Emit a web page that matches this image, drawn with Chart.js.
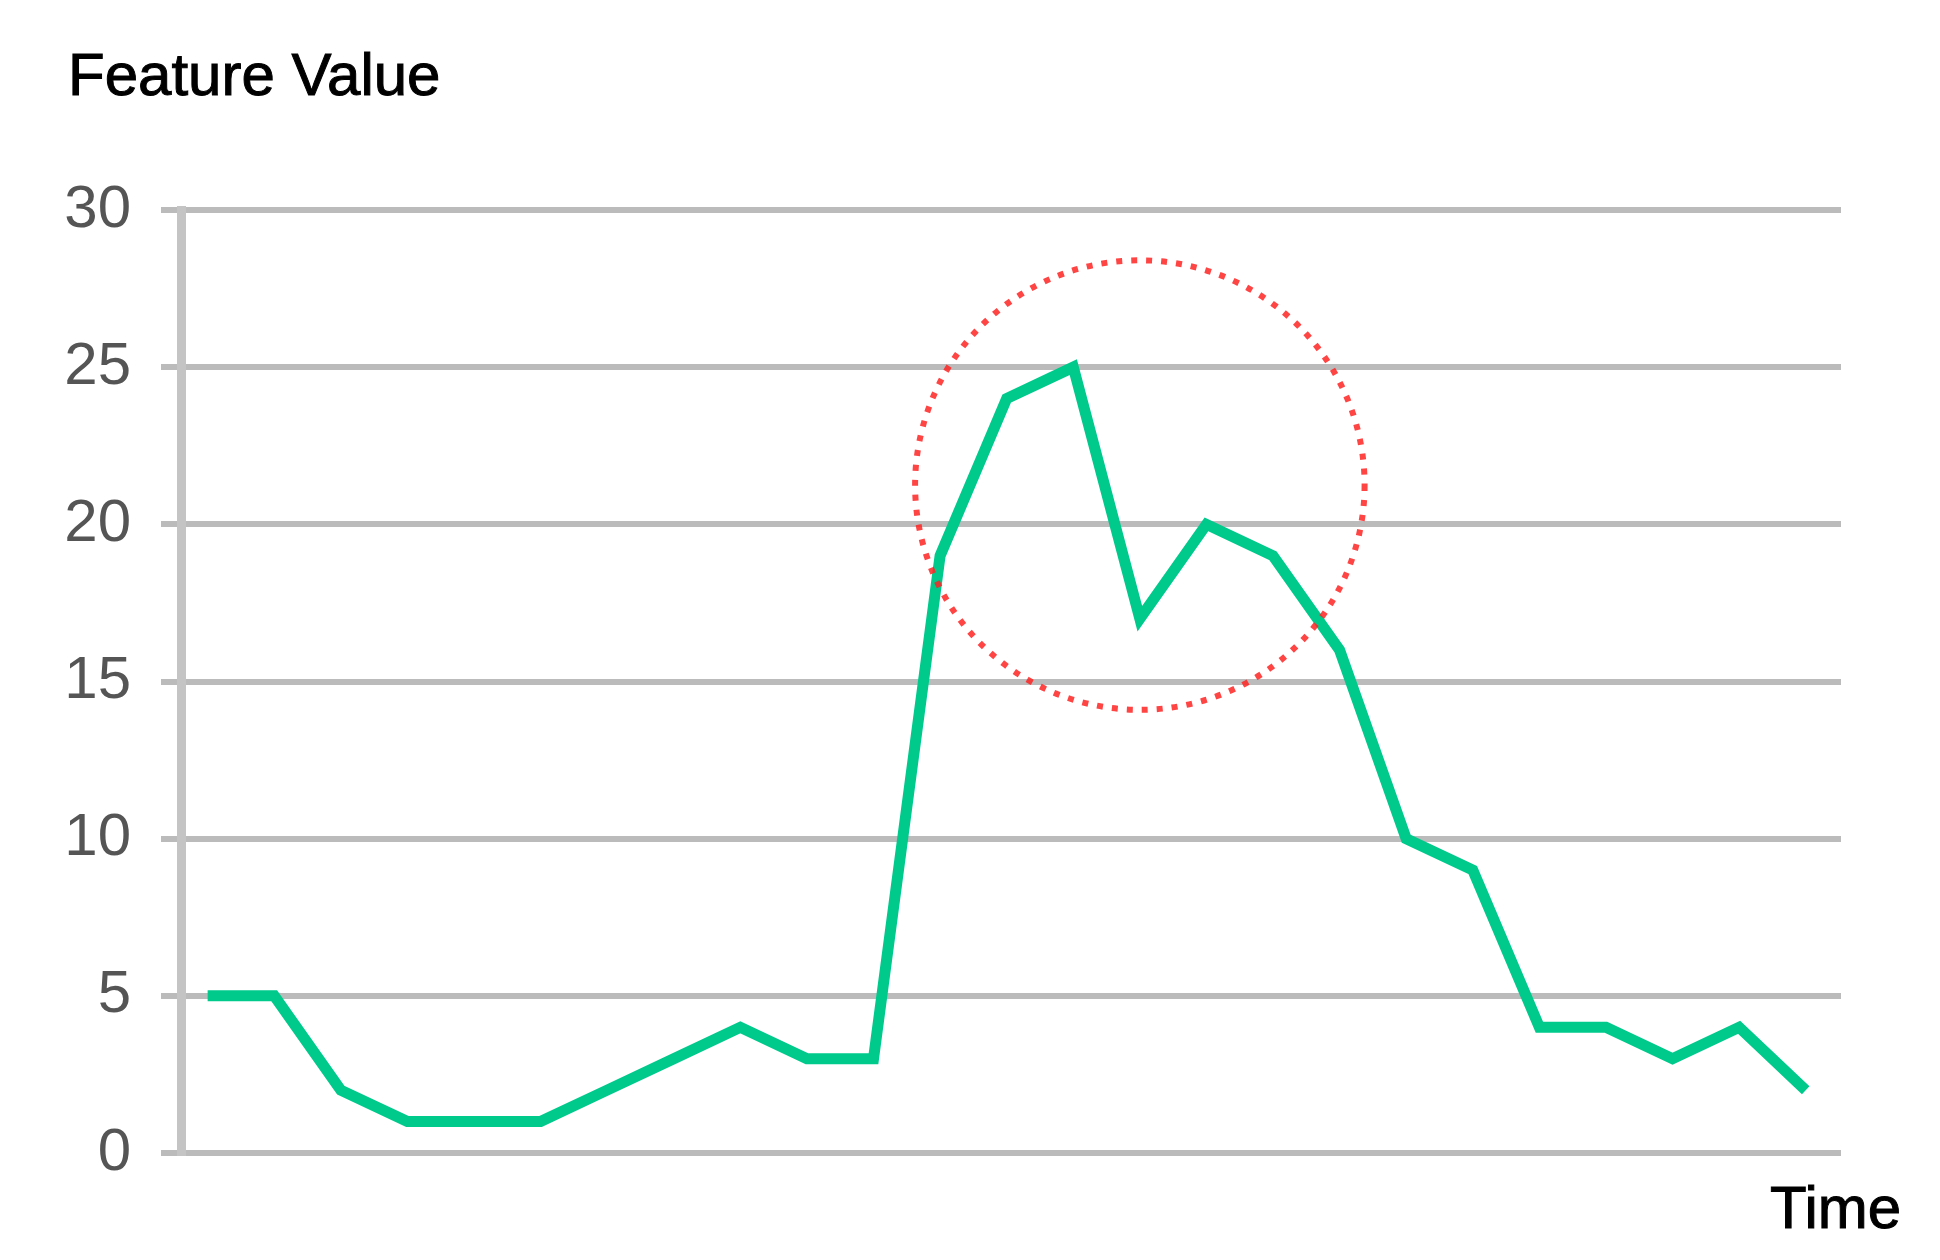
<!DOCTYPE html>
<html>
<head>
<meta charset="utf-8">
<script src="https://cdn.jsdelivr.net/npm/chart.js@4/dist/chart.umd.min.js"></script>
<style>
  html, body { margin: 0; padding: 0; background: #ffffff; }
  #wrap { position: relative; width: 1940px; height: 1260px; }
  #c { position: absolute; left: 0; top: 0; }
  .lbl { position: absolute; font-family: "Liberation Sans", Arial, sans-serif; font-size: 60px; color: #000; white-space: nowrap; line-height: 1; -webkit-text-stroke: 1px #000; }
</style>
</head>
<body>
<div id="wrap">
  <canvas id="c" width="1940" height="1260"></canvas>
  <div class="lbl" id="ytitle" style="left:68px; top:45px;">Feature Value</div>
  <div class="lbl" id="xtitle" style="left:1770px; top:1178px;">Time</div>
</div>
<script>
// ---- data ----
const timeSteps = ["t1","t2","t3","t4","t5","t6","t7","t8","t9","t10","t11","t12","t13","t14","t15","t16","t17","t18","t19","t20","t21","t22","t23","t24","t25"];
const featureValues = [5,5,2,1,1,1,2,3,4,3,3,19,24,25,17,20,19,16,10,9,4,4,3,4,2];
const yTicks = [0,5,10,15,20,25,30];
// highlighted region (in data units): centre index, centre value, radius in value units
const highlightCenterIndex = 14;
const highlightCenterValue = 21.25;
const highlightRadiusValue = 7.15;

const points = timeSteps.map((t, i) => ({ x: i, y: featureValues[i] }));

const circlePlugin = {
  id: 'highlightCircle',
  afterDatasetsDraw(chart) {
    const xs = chart.scales.x, ys = chart.scales.y;
    const cx = xs.getPixelForValue(highlightCenterIndex);
    const cy = ys.getPixelForValue(highlightCenterValue);
    const r = Math.abs(ys.getPixelForValue(highlightCenterValue - highlightRadiusValue) - cy);
    const ctx = chart.ctx;
    ctx.save();
    ctx.beginPath();
    ctx.arc(cx, cy, r, 0, Math.PI * 2);
    ctx.strokeStyle = 'rgba(255,35,35,0.85)';
    ctx.lineWidth = 6;
    ctx.setLineDash([6, 9]);
    ctx.stroke();
    ctx.restore();
  }
};

new Chart(document.getElementById('c'), {
  type: 'line',
  data: {
    datasets: [{
      data: points,
      borderColor: '#00c98c',
      borderWidth: 11,
      pointRadius: 0,
      tension: 0,
      fill: false
    }]
  },
  options: {
    responsive: false,
    devicePixelRatio: 1,
    animation: false,
    layout: { padding: { top: 210, bottom: 107, left: 0, right: 99 } },
    plugins: { legend: { display: false }, tooltip: { enabled: false }, title: { display: false } },
    scales: {
      x: {
        type: 'linear',
        min: -0.4,
        max: 24.53,
        display: false
      },
      y: {
        min: 0,
        max: 30,
        afterFit(scale) { scale.width = 181; },
        afterBuildTicks(scale) { scale.ticks = yTicks.map(v => ({ value: v })); },
        ticks: {
          padding: 30,
          color: '#555555',
          font: { family: '"Liberation Sans", Arial, sans-serif', size: 60 }
        },
        grid: {
          color: '#bbbbbb',
          lineWidth: 6,
          tickLength: 20,
          drawTicks: true
        },
        border: { display: true, color: '#c4c4c4', width: 9 }
      }
    }
  },
  plugins: [circlePlugin]
});
</script>
</body>
</html>
